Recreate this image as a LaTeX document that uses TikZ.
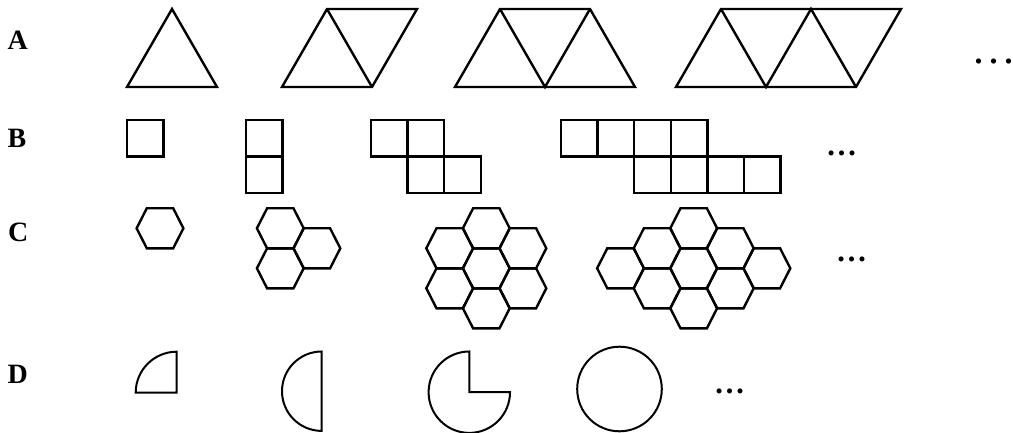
\documentclass[tikz,border=0pt]{standalone}
\usepackage{fontspec}
\setmainfont{Liberation Serif}
\newcommand{\hexcell}[2]{\draw[cellline,shift={(#1,-#2)}] (-23.4,0) -- (-13.2,20) -- (13.2,20) -- (23.4,0) -- (13.2,-20) -- (-13.2,-20) -- cycle;}
\newcommand{\sqcell}[2]{\draw[cellline] (#1,-#2) rectangle ++(36.6,-36.6);}
\begin{document}
\begin{tikzpicture}[x=1pt,y=1pt,
  cellline/.style={line width=2.4pt,line join=miter},
  arcline/.style={line width=2pt},
  rowlabel/.style={font=\bfseries\fontsize{28}{28}\selectfont,inner sep=0pt,anchor=base west},
  dotlabel/.style={font=\bfseries\fontsize{31}{31}\selectfont,inner sep=0pt,anchor=base}]
\useasboundingbox (0,-433) rectangle (1013,0);
% labels
\node[rowlabel] (labA) at (7.5,-50) {A};
\node[rowlabel] (labB) at (7.5,-148) {B};
\node[rowlabel] (labC) at (8,-241) {C};
\node[rowlabel] (labD) at (7.5,-383) {D};
% row A
\draw[cellline] (127,-87) -- (172,-9) -- (217,-87) -- cycle;
\draw[cellline] (282,-87) -- (327,-9) -- (417,-9) -- (372,-87) -- cycle;
\draw[cellline] (327,-9) -- (372,-87);
\draw[cellline] (455,-87) -- (500,-9) -- (590,-9) -- (635,-87) -- cycle;
\draw[cellline] (500,-9) -- (545,-87) -- (590,-9);
\draw[cellline] (676,-87) -- (721,-9) -- (901,-9) -- (856,-87) -- cycle;
\draw[cellline] (721,-9) -- (766,-87) -- (811,-9) -- (856,-87);
\node[font=\fontsize{44}{44}\selectfont,inner sep=0pt,anchor=base west] (dotsA) at (973.5,-64) {.\kern3.8pt.\kern3.8pt.\kern-3pt};
% row B
\sqcell{127}{120}
\sqcell{246}{120}
\sqcell{246}{156.6}
\sqcell{371}{120}
\sqcell{407.6}{120}
\sqcell{407.6}{156.6}
\sqcell{444.2}{156.6}
\sqcell{561}{120}
\sqcell{597.6}{120}
\sqcell{634.2}{120}
\sqcell{670.8}{120}
\sqcell{634.2}{156.6}
\sqcell{670.8}{156.6}
\sqcell{707.4}{156.6}
\sqcell{744}{156.6}
\node[dotlabel] (dotsB) at (841.7,-155.5) {…};
% row C
\hexcell{160}{228.3}
\hexcell{280.3}{228.3}
\hexcell{316.9}{248.3}
\hexcell{280.3}{268.3}
\hexcell{449.7}{248.3}
\hexcell{449.7}{288.3}
\hexcell{486.3}{228.3}
\hexcell{486.3}{268.3}
\hexcell{486.3}{308.3}
\hexcell{522.9}{248.3}
\hexcell{522.9}{288.3}
\hexcell{620.5}{268.3}
\hexcell{657.1}{248.3}
\hexcell{657.1}{288.3}
\hexcell{693.7}{228.3}
\hexcell{693.7}{268.3}
\hexcell{693.7}{308.3}
\hexcell{730.3}{248.3}
\hexcell{730.3}{288.3}
\hexcell{766.9}{268.3}
\node[dotlabel] (dotsC) at (851.7,-261.3) {…};
% row D
\draw[arcline] (176.7,-392.7) -- (135.7,-392.7) arc[start angle=180,end angle=90,radius=41pt] -- cycle;
\draw[arcline] (321.7,-351.5) arc[start angle=90,end angle=270,radius=39.7pt] -- cycle;
\draw[arcline] (469.3,-392.2) -- (469.3,-351.5) arc[start angle=90,end angle=360,radius=40.7pt] -- cycle;
\draw[arcline] (619.5,-389) circle[radius=42.3pt];
\node[dotlabel] (dotsD) at (729.5,-393.3) {…};
\end{tikzpicture}
\end{document}
